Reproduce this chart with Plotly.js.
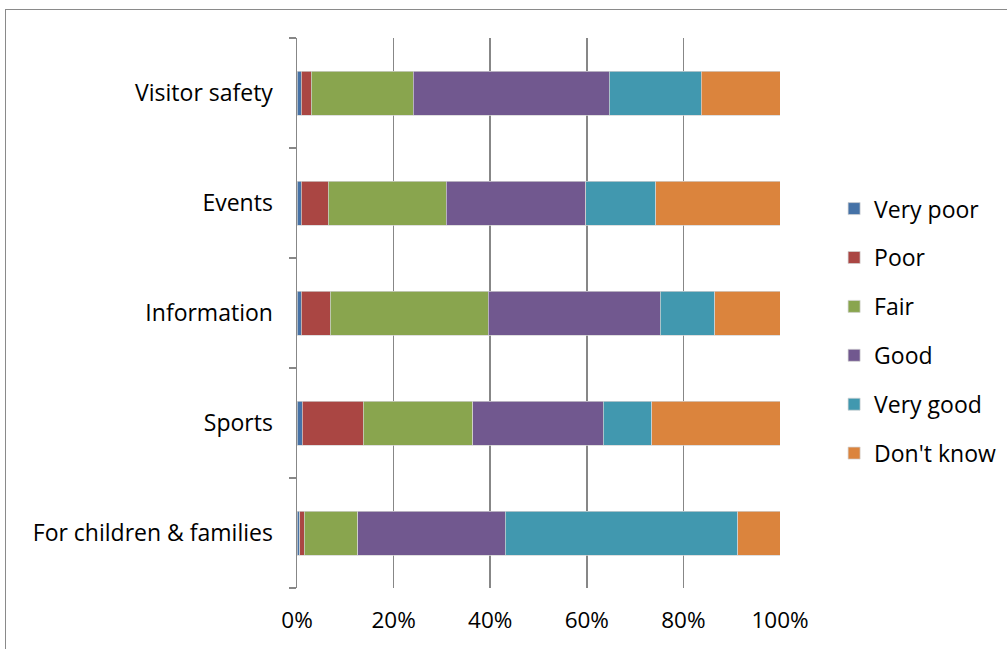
<!DOCTYPE html>
<html>
<head>
<meta charset="utf-8">
<script src="https://cdn.plot.ly/plotly-3.0.1.min.js"></script>
<style>
  html, body { margin: 0; padding: 0; background: #fff; overflow: hidden; }
  #chart { width: 1007px; height: 649px; }
  #frame { position: absolute; left: 5px; top: 9px; width: 1200px; height: 800px;
           border: 1px solid #8a8a8a; box-sizing: border-box; pointer-events: none; }
</style>
</head>
<body>
<div id="chart"></div>
<div id="frame"></div>
<script>
// Categories (bottom to top as drawn by Plotly)
const categories = ["For children & families", "Sports", "Information", "Events", "Visitor safety"];
const seriesNames = ["Very poor", "Poor", "Fair", "Good", "Very good", "Don't know"];

// Percent values per series, in the order of categories above
const veryPoor  = [0.6, 1.1, 0.9, 0.9, 0.9];
const poor      = [0.9, 12.6, 6.0, 5.6, 2.0];
const fair      = [11.1, 22.7, 32.7, 24.4, 21.2];
const good      = [30.5, 27.0, 35.6, 28.9, 40.5];
const veryGood  = [48.1, 10.0, 11.3, 14.5, 19.1];
const dontKnow  = [8.8, 26.6, 13.5, 25.7, 16.3];

const seriesValues = [veryPoor, poor, fair, good, veryGood, dontKnow];
const colors = ["#4572A7", "#AA4643", "#89A54E", "#71588F", "#4198AF", "#DB843D"];

const traces = seriesNames.map((name, i) => ({
  type: "bar",
  orientation: "h",
  name: name,
  legendgroup: "g" + i,
  y: categories,
  x: seriesValues[i],
  marker: { color: colors[i], line: { color: "rgba(210,210,210,0.9)", width: 0.8 } },
  hoverinfo: "name+x"
}));

const fontFam = "'Open Sans', sans-serif";

const layout = {
  width: 1007,
  height: 649,
  paper_bgcolor: "#fff",
  plot_bgcolor: "#fff",
  barmode: "stack",
  barnorm: "percent",
  bargap: 0.6,
  margin: { l: 297, r: 227, t: 38, b: 61, autoexpand: false },
  font: { family: fontFam, size: 23, color: "#000" },
  xaxis: {
    range: [0, 100],
    dtick: 20,
    tick0: 0,
    ticksuffix: "%",
    showgrid: true,
    gridcolor: "#878787",
    gridwidth: 1.5,
    zeroline: false,
    showline: false,
    ticks: "",
    ticklabelstandoff: 16,
    tickfont: { family: fontFam, size: 22.5, color: "#000" }
  },
  yaxis: {
    type: "category",
    categoryorder: "array",
    categoryarray: categories,
    showline: true,
    linecolor: "#878787",
    linewidth: 1.5,
    ticks: "outside",
    tickson: "boundaries",
    ticklen: 7,
    tickcolor: "#878787",
    tickwidth: 1.5,
    showgrid: false,
    ticklabelstandoff: 18,
    tickfont: { family: fontFam, size: 23, color: "#000" }
  },
  legend: {
    x: 1.112,
    xanchor: "left",
    y: 0.467,
    yanchor: "middle",
    traceorder: "grouped",
    tracegroupgap: 16,
    font: { family: fontFam, size: 23, color: "#000" },
    itemwidth: 30,
    bgcolor: "rgba(0,0,0,0)"
  },
  showlegend: true
};

Plotly.newPlot("chart", traces, layout, { displayModeBar: false, staticPlot: true });
</script>
</body>
</html>
